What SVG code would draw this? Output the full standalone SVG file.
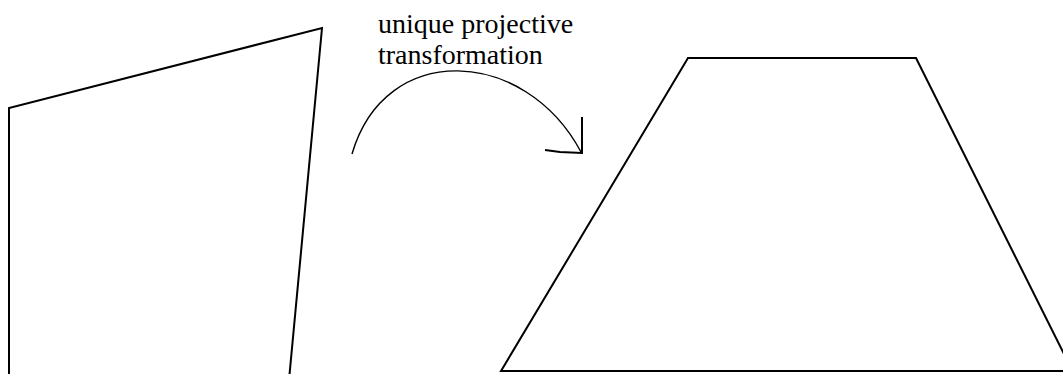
<svg xmlns="http://www.w3.org/2000/svg" width="1063" height="374" viewBox="0 0 1063 374">
<style>
.shape{fill:none;stroke:#000;stroke-width:2;stroke-linejoin:miter}
.arc{fill:none;stroke:#000;stroke-width:1.4}
.head{fill:none;stroke:#000;stroke-width:2}
.lbl{font-family:"Liberation Serif","Times New Roman",serif;font-size:28px;fill:#000}
</style>
<rect width="1063" height="374" fill="#fff"/>
<g id="source-quad">
<polyline class="shape" points="9,380 9,108 322,28 289,380"/>
</g>
<g id="target-trapezoid">
<polyline class="shape" points="1080,371 501,371 688,58 916,58 1080,386"/>
</g>
<g id="connectors">
<path class="arc" d="M352,154 C385,40 525,47 581,152"/>
<polyline class="head" points="582,117 582,153 560,152 545,150"/>
</g>
<g id="label">
<text class="lbl" x="378" y="33">unique projective</text>
<text class="lbl" x="378" y="64">transformation</text>
</g>
</svg>
